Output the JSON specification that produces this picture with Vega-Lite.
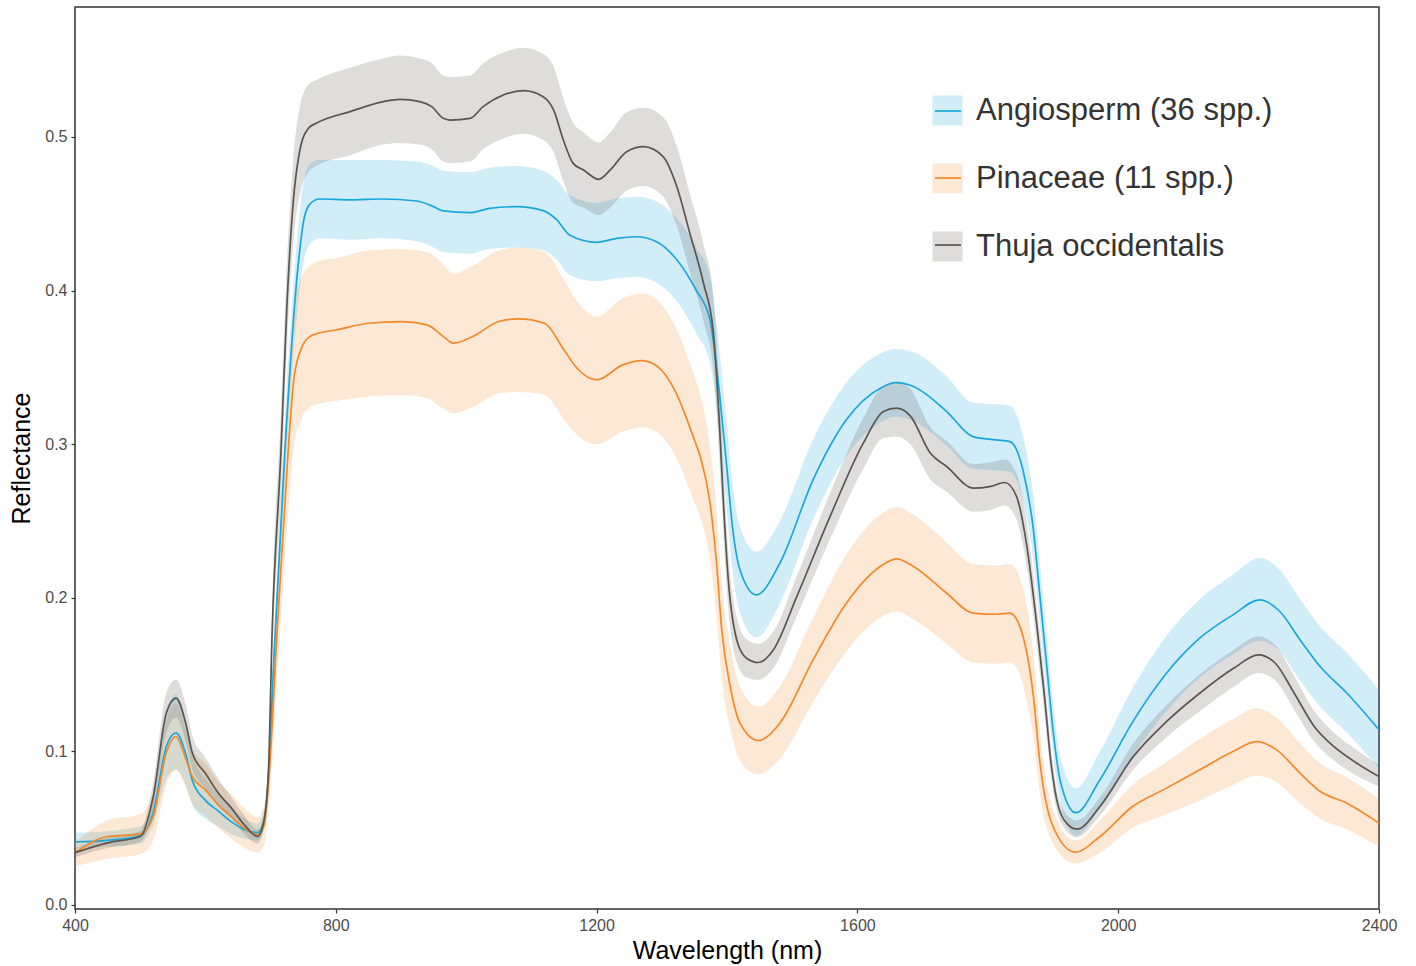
{
  "$schema": "https://vega.github.io/schema/vega-lite/v6.json",
  "width": 1304,
  "height": 902,
  "autosize": {"type": "none"},
  "padding": {"left": 75, "top": 7, "right": 37, "bottom": 57},
  "background": "white",
  "config": {
    "font": "Liberation Sans",
    "view": {"stroke": "#333333", "strokeWidth": 1.5},
    "axis": {"grid": false, "domain": false, "tickColor": "#333333", "tickWidth": 1.2, "tickSize": 4, "labelFont": "Liberation Sans", "labelFontSize": 16, "labelColor": "#4d4d4d", "labelPadding": 4, "labelFlush": false, "titleFont": "Liberation Sans", "titleFontSize": 25, "titleFontWeight": "normal", "titleColor": "#000000"},
    "legend": {"labelFont": "Liberation Sans"}
  },
  "datasets": {
    "spectra": [
      {"species":"Angiosperm (36 spp.)","wl":400,"mean":0.041,"lo":0.037,"hi":0.047},
      {"species":"Angiosperm (36 spp.)","wl":450,"mean":0.042,"lo":0.038,"hi":0.048},
      {"species":"Angiosperm (36 spp.)","wl":500,"mean":0.045,"lo":0.040,"hi":0.051},
      {"species":"Angiosperm (36 spp.)","wl":520,"mean":0.060,"lo":0.052,"hi":0.070},
      {"species":"Angiosperm (36 spp.)","wl":540,"mean":0.103,"lo":0.082,"hi":0.125},
      {"species":"Angiosperm (36 spp.)","wl":555,"mean":0.112,"lo":0.088,"hi":0.137},
      {"species":"Angiosperm (36 spp.)","wl":570,"mean":0.098,"lo":0.078,"hi":0.118},
      {"species":"Angiosperm (36 spp.)","wl":580,"mean":0.081,"lo":0.065,"hi":0.098},
      {"species":"Angiosperm (36 spp.)","wl":600,"mean":0.068,"lo":0.056,"hi":0.082},
      {"species":"Angiosperm (36 spp.)","wl":620,"mean":0.061,"lo":0.051,"hi":0.072},
      {"species":"Angiosperm (36 spp.)","wl":640,"mean":0.054,"lo":0.046,"hi":0.063},
      {"species":"Angiosperm (36 spp.)","wl":660,"mean":0.049,"lo":0.043,"hi":0.056},
      {"species":"Angiosperm (36 spp.)","wl":680,"mean":0.047,"lo":0.042,"hi":0.053},
      {"species":"Angiosperm (36 spp.)","wl":690,"mean":0.055,"lo":0.049,"hi":0.062},
      {"species":"Angiosperm (36 spp.)","wl":697,"mean":0.085,"lo":0.075,"hi":0.095},
      {"species":"Angiosperm (36 spp.)","wl":705,"mean":0.160,"lo":0.145,"hi":0.175},
      {"species":"Angiosperm (36 spp.)","wl":722,"mean":0.296,"lo":0.275,"hi":0.318},
      {"species":"Angiosperm (36 spp.)","wl":742,"mean":0.4155,"lo":0.390,"hi":0.440},
      {"species":"Angiosperm (36 spp.)","wl":752,"mean":0.448,"lo":0.422,"hi":0.474},
      {"species":"Angiosperm (36 spp.)","wl":762,"mean":0.457,"lo":0.431,"hi":0.483},
      {"species":"Angiosperm (36 spp.)","wl":775,"mean":0.4596,"lo":0.434,"hi":0.485},
      {"species":"Angiosperm (36 spp.)","wl":822,"mean":0.459,"lo":0.433,"hi":0.485},
      {"species":"Angiosperm (36 spp.)","wl":872,"mean":0.4596,"lo":0.434,"hi":0.485},
      {"species":"Angiosperm (36 spp.)","wl":924,"mean":0.4583,"lo":0.432,"hi":0.484},
      {"species":"Angiosperm (36 spp.)","wl":950,"mean":0.4546,"lo":0.428,"hi":0.481},
      {"species":"Angiosperm (36 spp.)","wl":965,"mean":0.4518,"lo":0.425,"hi":0.478},
      {"species":"Angiosperm (36 spp.)","wl":1006,"mean":0.4507,"lo":0.424,"hi":0.477},
      {"species":"Angiosperm (36 spp.)","wl":1036,"mean":0.4535,"lo":0.427,"hi":0.480},
      {"species":"Angiosperm (36 spp.)","wl":1077,"mean":0.4546,"lo":0.428,"hi":0.481},
      {"species":"Angiosperm (36 spp.)","wl":1118,"mean":0.452,"lo":0.426,"hi":0.478},
      {"species":"Angiosperm (36 spp.)","wl":1139,"mean":0.446,"lo":0.420,"hi":0.472},
      {"species":"Angiosperm (36 spp.)","wl":1159,"mean":0.436,"lo":0.410,"hi":0.462},
      {"species":"Angiosperm (36 spp.)","wl":1200,"mean":0.4314,"lo":0.406,"hi":0.457},
      {"species":"Angiosperm (36 spp.)","wl":1231,"mean":0.434,"lo":0.408,"hi":0.460},
      {"species":"Angiosperm (36 spp.)","wl":1261,"mean":0.435,"lo":0.409,"hi":0.461},
      {"species":"Angiosperm (36 spp.)","wl":1292,"mean":0.4318,"lo":0.405,"hi":0.458},
      {"species":"Angiosperm (36 spp.)","wl":1323,"mean":0.420,"lo":0.393,"hi":0.447},
      {"species":"Angiosperm (36 spp.)","wl":1353,"mean":0.400,"lo":0.372,"hi":0.428},
      {"species":"Angiosperm (36 spp.)","wl":1374,"mean":0.381,"lo":0.353,"hi":0.409},
      {"species":"Angiosperm (36 spp.)","wl":1384,"mean":0.350,"lo":0.322,"hi":0.378},
      {"species":"Angiosperm (36 spp.)","wl":1389,"mean":0.331,"lo":0.303,"hi":0.359},
      {"species":"Angiosperm (36 spp.)","wl":1399,"mean":0.288,"lo":0.260,"hi":0.316},
      {"species":"Angiosperm (36 spp.)","wl":1409,"mean":0.244,"lo":0.216,"hi":0.272},
      {"species":"Angiosperm (36 spp.)","wl":1420,"mean":0.218,"lo":0.190,"hi":0.246},
      {"species":"Angiosperm (36 spp.)","wl":1445,"mean":0.2018,"lo":0.174,"hi":0.230},
      {"species":"Angiosperm (36 spp.)","wl":1481,"mean":0.2224,"lo":0.196,"hi":0.250},
      {"species":"Angiosperm (36 spp.)","wl":1532,"mean":0.2767,"lo":0.251,"hi":0.303},
      {"species":"Angiosperm (36 spp.)","wl":1583,"mean":0.3158,"lo":0.292,"hi":0.340},
      {"species":"Angiosperm (36 spp.)","wl":1635,"mean":0.3364,"lo":0.314,"hi":0.359},
      {"species":"Angiosperm (36 spp.)","wl":1660,"mean":0.340,"lo":0.318,"hi":0.362},
      {"species":"Angiosperm (36 spp.)","wl":1686,"mean":0.3375,"lo":0.315,"hi":0.360},
      {"species":"Angiosperm (36 spp.)","wl":1737,"mean":0.3212,"lo":0.299,"hi":0.344},
      {"species":"Angiosperm (36 spp.)","wl":1777,"mean":0.3049,"lo":0.284,"hi":0.327},
      {"species":"Angiosperm (36 spp.)","wl":1813,"mean":0.3027,"lo":0.283,"hi":0.326},
      {"species":"Angiosperm (36 spp.)","wl":1834,"mean":0.3016,"lo":0.282,"hi":0.325},
      {"species":"Angiosperm (36 spp.)","wl":1854,"mean":0.283,"lo":0.263,"hi":0.305},
      {"species":"Angiosperm (36 spp.)","wl":1870,"mean":0.244,"lo":0.224,"hi":0.266},
      {"species":"Angiosperm (36 spp.)","wl":1880,"mean":0.2007,"lo":0.182,"hi":0.222},
      {"species":"Angiosperm (36 spp.)","wl":1890,"mean":0.1574,"lo":0.140,"hi":0.177},
      {"species":"Angiosperm (36 spp.)","wl":1900,"mean":0.114,"lo":0.098,"hi":0.132},
      {"species":"Angiosperm (36 spp.)","wl":1911,"mean":0.081,"lo":0.067,"hi":0.097},
      {"species":"Angiosperm (36 spp.)","wl":1935,"mean":0.060,"lo":0.045,"hi":0.076},
      {"species":"Angiosperm (36 spp.)","wl":1972,"mean":0.0814,"lo":0.063,"hi":0.100},
      {"species":"Angiosperm (36 spp.)","wl":2022,"mean":0.119,"lo":0.097,"hi":0.141},
      {"species":"Angiosperm (36 spp.)","wl":2074,"mean":0.1508,"lo":0.126,"hi":0.175},
      {"species":"Angiosperm (36 spp.)","wl":2125,"mean":0.1736,"lo":0.148,"hi":0.199},
      {"species":"Angiosperm (36 spp.)","wl":2176,"mean":0.1888,"lo":0.163,"hi":0.215},
      {"species":"Angiosperm (36 spp.)","wl":2217,"mean":0.1986,"lo":0.172,"hi":0.226},
      {"species":"Angiosperm (36 spp.)","wl":2248,"mean":0.191,"lo":0.165,"hi":0.218},
      {"species":"Angiosperm (36 spp.)","wl":2279,"mean":0.1725,"lo":0.146,"hi":0.199},
      {"species":"Angiosperm (36 spp.)","wl":2310,"mean":0.155,"lo":0.129,"hi":0.181},
      {"species":"Angiosperm (36 spp.)","wl":2351,"mean":0.1378,"lo":0.112,"hi":0.164},
      {"species":"Angiosperm (36 spp.)","wl":2400,"mean":0.114,"lo":0.089,"hi":0.140},

      {"species":"Pinaceae (11 spp.)","wl":400,"mean":0.034,"lo":0.025,"hi":0.041},
      {"species":"Pinaceae (11 spp.)","wl":450,"mean":0.0445,"lo":0.030,"hi":0.055},
      {"species":"Pinaceae (11 spp.)","wl":500,"mean":0.046,"lo":0.033,"hi":0.059},
      {"species":"Pinaceae (11 spp.)","wl":520,"mean":0.0575,"lo":0.042,"hi":0.074},
      {"species":"Pinaceae (11 spp.)","wl":540,"mean":0.099,"lo":0.078,"hi":0.120},
      {"species":"Pinaceae (11 spp.)","wl":555,"mean":0.1096,"lo":0.088,"hi":0.131},
      {"species":"Pinaceae (11 spp.)","wl":570,"mean":0.095,"lo":0.076,"hi":0.114},
      {"species":"Pinaceae (11 spp.)","wl":580,"mean":0.0835,"lo":0.066,"hi":0.101},
      {"species":"Pinaceae (11 spp.)","wl":600,"mean":0.0749,"lo":0.058,"hi":0.092},
      {"species":"Pinaceae (11 spp.)","wl":620,"mean":0.065,"lo":0.050,"hi":0.080},
      {"species":"Pinaceae (11 spp.)","wl":640,"mean":0.0575,"lo":0.043,"hi":0.072},
      {"species":"Pinaceae (11 spp.)","wl":660,"mean":0.050,"lo":0.037,"hi":0.063},
      {"species":"Pinaceae (11 spp.)","wl":680,"mean":0.0456,"lo":0.034,"hi":0.057},
      {"species":"Pinaceae (11 spp.)","wl":690,"mean":0.052,"lo":0.039,"hi":0.065},
      {"species":"Pinaceae (11 spp.)","wl":697,"mean":0.080,"lo":0.062,"hi":0.098},
      {"species":"Pinaceae (11 spp.)","wl":709,"mean":0.170,"lo":0.140,"hi":0.200},
      {"species":"Pinaceae (11 spp.)","wl":727,"mean":0.296,"lo":0.255,"hi":0.337},
      {"species":"Pinaceae (11 spp.)","wl":735,"mean":0.340,"lo":0.295,"hi":0.385},
      {"species":"Pinaceae (11 spp.)","wl":745,"mean":0.360,"lo":0.314,"hi":0.406},
      {"species":"Pinaceae (11 spp.)","wl":760,"mean":0.370,"lo":0.324,"hi":0.416},
      {"species":"Pinaceae (11 spp.)","wl":772,"mean":0.372,"lo":0.326,"hi":0.419},
      {"species":"Pinaceae (11 spp.)","wl":800,"mean":0.3743,"lo":0.328,"hi":0.421},
      {"species":"Pinaceae (11 spp.)","wl":850,"mean":0.3787,"lo":0.331,"hi":0.426},
      {"species":"Pinaceae (11 spp.)","wl":900,"mean":0.3798,"lo":0.332,"hi":0.427},
      {"species":"Pinaceae (11 spp.)","wl":940,"mean":0.3776,"lo":0.330,"hi":0.425},
      {"species":"Pinaceae (11 spp.)","wl":965,"mean":0.370,"lo":0.323,"hi":0.417},
      {"species":"Pinaceae (11 spp.)","wl":980,"mean":0.3657,"lo":0.320,"hi":0.411},
      {"species":"Pinaceae (11 spp.)","wl":1010,"mean":0.370,"lo":0.324,"hi":0.416},
      {"species":"Pinaceae (11 spp.)","wl":1050,"mean":0.3798,"lo":0.333,"hi":0.426},
      {"species":"Pinaceae (11 spp.)","wl":1080,"mean":0.3815,"lo":0.334,"hi":0.428},
      {"species":"Pinaceae (11 spp.)","wl":1120,"mean":0.3787,"lo":0.332,"hi":0.425},
      {"species":"Pinaceae (11 spp.)","wl":1150,"mean":0.3613,"lo":0.316,"hi":0.407},
      {"species":"Pinaceae (11 spp.)","wl":1170,"mean":0.3494,"lo":0.306,"hi":0.393},
      {"species":"Pinaceae (11 spp.)","wl":1200,"mean":0.3418,"lo":0.300,"hi":0.383},
      {"species":"Pinaceae (11 spp.)","wl":1240,"mean":0.3516,"lo":0.308,"hi":0.395},
      {"species":"Pinaceae (11 spp.)","wl":1270,"mean":0.3544,"lo":0.311,"hi":0.398},
      {"species":"Pinaceae (11 spp.)","wl":1295,"mean":0.350,"lo":0.307,"hi":0.393},
      {"species":"Pinaceae (11 spp.)","wl":1320,"mean":0.335,"lo":0.293,"hi":0.377},
      {"species":"Pinaceae (11 spp.)","wl":1350,"mean":0.3027,"lo":0.262,"hi":0.344},
      {"species":"Pinaceae (11 spp.)","wl":1359,"mean":0.2919,"lo":0.252,"hi":0.332},
      {"species":"Pinaceae (11 spp.)","wl":1374,"mean":0.2616,"lo":0.225,"hi":0.298},
      {"species":"Pinaceae (11 spp.)","wl":1384,"mean":0.2224,"lo":0.188,"hi":0.257},
      {"species":"Pinaceae (11 spp.)","wl":1392,"mean":0.179,"lo":0.148,"hi":0.210},
      {"species":"Pinaceae (11 spp.)","wl":1405,"mean":0.142,"lo":0.115,"hi":0.169},
      {"species":"Pinaceae (11 spp.)","wl":1420,"mean":0.1183,"lo":0.094,"hi":0.142},
      {"species":"Pinaceae (11 spp.)","wl":1448,"mean":0.107,"lo":0.085,"hi":0.129},
      {"species":"Pinaceae (11 spp.)","wl":1481,"mean":0.1183,"lo":0.095,"hi":0.142},
      {"species":"Pinaceae (11 spp.)","wl":1532,"mean":0.1595,"lo":0.132,"hi":0.187},
      {"species":"Pinaceae (11 spp.)","wl":1583,"mean":0.1964,"lo":0.165,"hi":0.228},
      {"species":"Pinaceae (11 spp.)","wl":1635,"mean":0.2203,"lo":0.187,"hi":0.254},
      {"species":"Pinaceae (11 spp.)","wl":1660,"mean":0.2253,"lo":0.191,"hi":0.259},
      {"species":"Pinaceae (11 spp.)","wl":1686,"mean":0.2203,"lo":0.186,"hi":0.254},
      {"species":"Pinaceae (11 spp.)","wl":1737,"mean":0.2029,"lo":0.170,"hi":0.236},
      {"species":"Pinaceae (11 spp.)","wl":1777,"mean":0.190,"lo":0.158,"hi":0.222},
      {"species":"Pinaceae (11 spp.)","wl":1813,"mean":0.1892,"lo":0.157,"hi":0.221},
      {"species":"Pinaceae (11 spp.)","wl":1834,"mean":0.190,"lo":0.158,"hi":0.222},
      {"species":"Pinaceae (11 spp.)","wl":1854,"mean":0.1747,"lo":0.143,"hi":0.206},
      {"species":"Pinaceae (11 spp.)","wl":1870,"mean":0.1356,"lo":0.108,"hi":0.163},
      {"species":"Pinaceae (11 spp.)","wl":1880,"mean":0.0924,"lo":0.072,"hi":0.113},
      {"species":"Pinaceae (11 spp.)","wl":1900,"mean":0.051,"lo":0.040,"hi":0.062},
      {"species":"Pinaceae (11 spp.)","wl":1934,"mean":0.0343,"lo":0.027,"hi":0.042},
      {"species":"Pinaceae (11 spp.)","wl":1972,"mean":0.0445,"lo":0.034,"hi":0.055},
      {"species":"Pinaceae (11 spp.)","wl":2022,"mean":0.064,"lo":0.050,"hi":0.078},
      {"species":"Pinaceae (11 spp.)","wl":2074,"mean":0.076,"lo":0.059,"hi":0.093},
      {"species":"Pinaceae (11 spp.)","wl":2125,"mean":0.0879,"lo":0.068,"hi":0.108},
      {"species":"Pinaceae (11 spp.)","wl":2176,"mean":0.0998,"lo":0.078,"hi":0.121},
      {"species":"Pinaceae (11 spp.)","wl":2212,"mean":0.1063,"lo":0.084,"hi":0.128},
      {"species":"Pinaceae (11 spp.)","wl":2243,"mean":0.1009,"lo":0.080,"hi":0.122},
      {"species":"Pinaceae (11 spp.)","wl":2279,"mean":0.0857,"lo":0.066,"hi":0.105},
      {"species":"Pinaceae (11 spp.)","wl":2310,"mean":0.0738,"lo":0.056,"hi":0.092},
      {"species":"Pinaceae (11 spp.)","wl":2351,"mean":0.0662,"lo":0.049,"hi":0.083},
      {"species":"Pinaceae (11 spp.)","wl":2400,"mean":0.0532,"lo":0.038,"hi":0.069},

      {"species":"Thuja occidentalis","wl":400,"mean":0.034,"lo":0.031,"hi":0.037},
      {"species":"Thuja occidentalis","wl":450,"mean":0.0404,"lo":0.037,"hi":0.044},
      {"species":"Thuja occidentalis","wl":500,"mean":0.0445,"lo":0.041,"hi":0.048},
      {"species":"Thuja occidentalis","wl":520,"mean":0.0705,"lo":0.062,"hi":0.080},
      {"species":"Thuja occidentalis","wl":540,"mean":0.1248,"lo":0.112,"hi":0.138},
      {"species":"Thuja occidentalis","wl":555,"mean":0.1346,"lo":0.122,"hi":0.1465},
      {"species":"Thuja occidentalis","wl":570,"mean":0.118,"lo":0.106,"hi":0.130},
      {"species":"Thuja occidentalis","wl":580,"mean":0.0988,"lo":0.088,"hi":0.110},
      {"species":"Thuja occidentalis","wl":600,"mean":0.0857,"lo":0.076,"hi":0.096},
      {"species":"Thuja occidentalis","wl":620,"mean":0.0727,"lo":0.064,"hi":0.082},
      {"species":"Thuja occidentalis","wl":640,"mean":0.063,"lo":0.056,"hi":0.070},
      {"species":"Thuja occidentalis","wl":660,"mean":0.052,"lo":0.046,"hi":0.058},
      {"species":"Thuja occidentalis","wl":680,"mean":0.0445,"lo":0.040,"hi":0.049},
      {"species":"Thuja occidentalis","wl":690,"mean":0.055,"lo":0.050,"hi":0.060},
      {"species":"Thuja occidentalis","wl":697,"mean":0.090,"lo":0.082,"hi":0.098},
      {"species":"Thuja occidentalis","wl":702,"mean":0.1725,"lo":0.155,"hi":0.190},
      {"species":"Thuja occidentalis","wl":716,"mean":0.296,"lo":0.270,"hi":0.322},
      {"species":"Thuja occidentalis","wl":725,"mean":0.390,"lo":0.362,"hi":0.418},
      {"species":"Thuja occidentalis","wl":735,"mean":0.459,"lo":0.431,"hi":0.487},
      {"species":"Thuja occidentalis","wl":745,"mean":0.4915,"lo":0.463,"hi":0.520},
      {"species":"Thuja occidentalis","wl":758,"mean":0.5056,"lo":0.477,"hi":0.534},
      {"species":"Thuja occidentalis","wl":770,"mean":0.5089,"lo":0.481,"hi":0.537},
      {"species":"Thuja occidentalis","wl":822,"mean":0.5165,"lo":0.488,"hi":0.545},
      {"species":"Thuja occidentalis","wl":873,"mean":0.523,"lo":0.495,"hi":0.551},
      {"species":"Thuja occidentalis","wl":898,"mean":0.5245,"lo":0.496,"hi":0.553},
      {"species":"Thuja occidentalis","wl":929,"mean":0.523,"lo":0.495,"hi":0.551},
      {"species":"Thuja occidentalis","wl":947,"mean":0.5197,"lo":0.492,"hi":0.548},
      {"species":"Thuja occidentalis","wl":965,"mean":0.5121,"lo":0.484,"hi":0.540},
      {"species":"Thuja occidentalis","wl":975,"mean":0.511,"lo":0.483,"hi":0.539},
      {"species":"Thuja occidentalis","wl":1006,"mean":0.5121,"lo":0.484,"hi":0.540},
      {"species":"Thuja occidentalis","wl":1026,"mean":0.5197,"lo":0.492,"hi":0.548},
      {"species":"Thuja occidentalis","wl":1057,"mean":0.5273,"lo":0.499,"hi":0.555},
      {"species":"Thuja occidentalis","wl":1088,"mean":0.5301,"lo":0.502,"hi":0.558},
      {"species":"Thuja occidentalis","wl":1118,"mean":0.5262,"lo":0.498,"hi":0.554},
      {"species":"Thuja occidentalis","wl":1134,"mean":0.5176,"lo":0.490,"hi":0.546},
      {"species":"Thuja occidentalis","wl":1149,"mean":0.498,"lo":0.471,"hi":0.525},
      {"species":"Thuja occidentalis","wl":1164,"mean":0.4828,"lo":0.457,"hi":0.509},
      {"species":"Thuja occidentalis","wl":1180,"mean":0.4785,"lo":0.454,"hi":0.503},
      {"species":"Thuja occidentalis","wl":1203,"mean":0.4724,"lo":0.449,"hi":0.4963},
      {"species":"Thuja occidentalis","wl":1221,"mean":0.4785,"lo":0.454,"hi":0.503},
      {"species":"Thuja occidentalis","wl":1246,"mean":0.4904,"lo":0.465,"hi":0.516},
      {"species":"Thuja occidentalis","wl":1272,"mean":0.4937,"lo":0.468,"hi":0.519},
      {"species":"Thuja occidentalis","wl":1302,"mean":0.4872,"lo":0.461,"hi":0.513},
      {"species":"Thuja occidentalis","wl":1323,"mean":0.4677,"lo":0.442,"hi":0.494},
      {"species":"Thuja occidentalis","wl":1343,"mean":0.4373,"lo":0.412,"hi":0.463},
      {"species":"Thuja occidentalis","wl":1364,"mean":0.4047,"lo":0.380,"hi":0.430},
      {"species":"Thuja occidentalis","wl":1379,"mean":0.373,"lo":0.349,"hi":0.397},
      {"species":"Thuja occidentalis","wl":1389,"mean":0.308,"lo":0.285,"hi":0.331},
      {"species":"Thuja occidentalis","wl":1394,"mean":0.266,"lo":0.245,"hi":0.287},
      {"species":"Thuja occidentalis","wl":1402,"mean":0.2116,"lo":0.193,"hi":0.230},
      {"species":"Thuja occidentalis","wl":1415,"mean":0.1725,"lo":0.158,"hi":0.187},
      {"species":"Thuja occidentalis","wl":1430,"mean":0.1606,"lo":0.148,"hi":0.173},
      {"species":"Thuja occidentalis","wl":1448,"mean":0.1578,"lo":0.1465,"hi":0.170},
      {"species":"Thuja occidentalis","wl":1471,"mean":0.166,"lo":0.154,"hi":0.178},
      {"species":"Thuja occidentalis","wl":1507,"mean":0.2007,"lo":0.188,"hi":0.214},
      {"species":"Thuja occidentalis","wl":1558,"mean":0.2528,"lo":0.238,"hi":0.268},
      {"species":"Thuja occidentalis","wl":1609,"mean":0.3006,"lo":0.284,"hi":0.317},
      {"species":"Thuja occidentalis","wl":1640,"mean":0.3212,"lo":0.304,"hi":0.338},
      {"species":"Thuja occidentalis","wl":1660,"mean":0.3234,"lo":0.305,"hi":0.3407},
      {"species":"Thuja occidentalis","wl":1681,"mean":0.3184,"lo":0.300,"hi":0.336},
      {"species":"Thuja occidentalis","wl":1712,"mean":0.294,"lo":0.277,"hi":0.311},
      {"species":"Thuja occidentalis","wl":1737,"mean":0.2854,"lo":0.269,"hi":0.302},
      {"species":"Thuja occidentalis","wl":1778,"mean":0.2713,"lo":0.256,"hi":0.287},
      {"species":"Thuja occidentalis","wl":1803,"mean":0.2723,"lo":0.257,"hi":0.288},
      {"species":"Thuja occidentalis","wl":1826,"mean":0.275,"lo":0.260,"hi":0.290},
      {"species":"Thuja occidentalis","wl":1844,"mean":0.266,"lo":0.251,"hi":0.281},
      {"species":"Thuja occidentalis","wl":1860,"mean":0.2333,"lo":0.219,"hi":0.248},
      {"species":"Thuja occidentalis","wl":1876,"mean":0.179,"lo":0.166,"hi":0.192},
      {"species":"Thuja occidentalis","wl":1887,"mean":0.1356,"lo":0.124,"hi":0.148},
      {"species":"Thuja occidentalis","wl":1897,"mean":0.0922,"lo":0.083,"hi":0.102},
      {"species":"Thuja occidentalis","wl":1905,"mean":0.070,"lo":0.063,"hi":0.077},
      {"species":"Thuja occidentalis","wl":1917,"mean":0.0553,"lo":0.050,"hi":0.061},
      {"species":"Thuja occidentalis","wl":1937,"mean":0.0493,"lo":0.044,"hi":0.055},
      {"species":"Thuja occidentalis","wl":1972,"mean":0.064,"lo":0.058,"hi":0.070},
      {"species":"Thuja occidentalis","wl":2023,"mean":0.0965,"lo":0.088,"hi":0.105},
      {"species":"Thuja occidentalis","wl":2074,"mean":0.1193,"lo":0.109,"hi":0.130},
      {"species":"Thuja occidentalis","wl":2125,"mean":0.1378,"lo":0.126,"hi":0.150},
      {"species":"Thuja occidentalis","wl":2177,"mean":0.154,"lo":0.142,"hi":0.166},
      {"species":"Thuja occidentalis","wl":2215,"mean":0.1628,"lo":0.151,"hi":0.1747},
      {"species":"Thuja occidentalis","wl":2241,"mean":0.1573,"lo":0.146,"hi":0.169},
      {"species":"Thuja occidentalis","wl":2270,"mean":0.1378,"lo":0.127,"hi":0.149},
      {"species":"Thuja occidentalis","wl":2301,"mean":0.116,"lo":0.106,"hi":0.126},
      {"species":"Thuja occidentalis","wl":2331,"mean":0.103,"lo":0.094,"hi":0.112},
      {"species":"Thuja occidentalis","wl":2362,"mean":0.0933,"lo":0.085,"hi":0.102},
      {"species":"Thuja occidentalis","wl":2400,"mean":0.0835,"lo":0.077,"hi":0.091}
    ]
  },
  "data": {"name": "spectra"},
  "layer": [
    {
      "mark": {"type": "area", "interpolate": "monotone", "opacity": 0.2},
      "encoding": {
        "x": {"field": "wl", "type": "quantitative", "scale": {"domain": [400, 2400], "nice": false, "zero": false},
              "axis": {"title": "Wavelength (nm)", "values": [400, 800, 1200, 1600, 2000, 2400], "format": "d", "titlePadding": 5}},
        "y": {"field": "lo", "type": "quantitative", "scale": {"domain": [-0.0027, 0.5846], "nice": false, "zero": false},
              "axis": {"title": "Reflectance", "values": [0, 0.1, 0.2, 0.3, 0.4, 0.5], "format": ".1f", "titlePadding": 10}},
        "y2": {"field": "hi"},
        "fill": {"field": "species", "type": "nominal",
                 "scale": {"domain": ["Angiosperm (36 spp.)", "Pinaceae (11 spp.)", "Thuja occidentalis"], "range": ["#1aa7da", "#f28a2a", "#5b554f"]},
                 "legend": {"title": null, "orient": "none", "legendX": 857, "legendY": 88, "symbolType": "square", "symbolSize": 900, "symbolStrokeWidth": 0, "labelFontSize": 31, "labelColor": "#333333", "labelOffset": 13, "labelLimit": 0, "rowPadding": 36, "padding": 0, "zindex": 0}}
      }
    },
    {
      "mark": {"type": "line", "interpolate": "monotone", "strokeWidth": 1.7},
      "encoding": {
        "x": {"field": "wl", "type": "quantitative"},
        "y": {"field": "mean", "type": "quantitative"},
        "stroke": {"field": "species", "type": "nominal",
                   "scale": {"range": ["#1aa7da", "#f28a2a", "#5b554f"]},
                   "legend": {"title": null, "orient": "none", "legendX": 857, "legendY": 88, "symbolType": "M-0.87,0H0.87", "symbolSize": 900, "symbolStrokeWidth": 1.7, "labelFontSize": 31, "labelExpr": "''", "labelOffset": 13, "rowPadding": 36, "padding": 0, "zindex": 1}}
      }
    }
  ]
}
